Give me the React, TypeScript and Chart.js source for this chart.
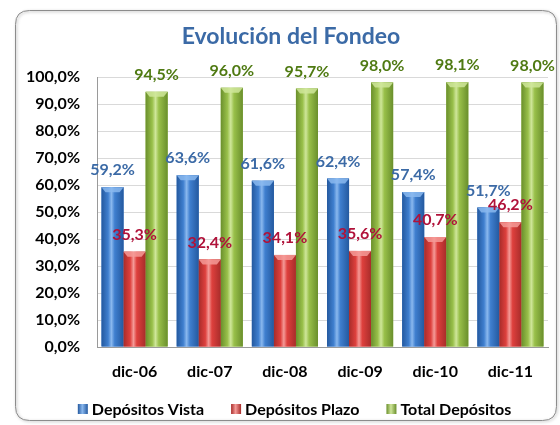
import React, { useEffect, useRef } from "react";
import { Chart, registerables } from "chart.js";

Chart.register(...registerables);

const categories = ["dic-06", "dic-07", "dic-08", "dic-09", "dic-10", "dic-11"];
const vista = [59.2, 63.6, 61.6, 62.4, 57.4, 51.7];
const plazo = [35.3, 32.4, 34.1, 35.6, 40.7, 46.2];
const total = [94.5, 96.0, 95.7, 98.0, 98.1, 98.0];
const seriesNames = ["Depósitos Vista", "Depósitos Plazo", "Total Depósitos"];
const yTicks = [0, 10, 20, 30, 40, 50, 60, 70, 80, 90, 100];
const title = "Evolución del Fondeo";

const FONT = "Lato, 'Open Sans', sans-serif";
const baseColors = ["#3f7fcf", "#de403d", "#99c04a"];
const darkColors = ["#24599f", "#a82c2a", "#6a8f2c"];
const lightColors = ["#8ab8ee", "#f49a97", "#cfe69a"];
const labelColors = ["#3b6aa6", "#b0123a", "#4f7a12"];

const fmt = (v: number) => v.toFixed(1).replace(".", ",") + "%";

function roundRect(ctx: CanvasRenderingContext2D, x: number, y: number, w: number, h: number, r: number) {
  ctx.beginPath();
  ctx.moveTo(x + r, y);
  ctx.lineTo(x + w - r, y);
  ctx.quadraticCurveTo(x + w, y, x + w, y + r);
  ctx.lineTo(x + w, y + h - r);
  ctx.quadraticCurveTo(x + w, y + h, x + w - r, y + h);
  ctx.lineTo(x + r, y + h);
  ctx.quadraticCurveTo(x, y + h, x, y + h - r);
  ctx.lineTo(x, y + r);
  ctx.quadraticCurveTo(x, y, x + r, y);
  ctx.closePath();
}

const decorPlugin = {
  id: "decor",
  beforeDraw(chart: any) {
    const ctx = chart.ctx as CanvasRenderingContext2D;
    ctx.save();
    ctx.fillStyle = "#ffffff";
    ctx.fillRect(0, 0, chart.width, chart.height);
    ctx.shadowColor = "rgba(0,0,0,0.35)";
    ctx.shadowBlur = 3;
    ctx.shadowOffsetX = 1;
    ctx.shadowOffsetY = 1;
    roundRect(ctx, 15.5, 10.5, 541, 410, 14);
    ctx.strokeStyle = "#8c8c8c";
    ctx.lineWidth = 1;
    ctx.stroke();
    ctx.restore();
    ctx.save();
    ctx.fillStyle = "#3b6aa6";
    ctx.font = `bold 23px ${FONT}`;
    ctx.textAlign = "center";
    ctx.textBaseline = "middle";
    ctx.fillText(title, 291, 37);
    ctx.restore();
  },
  afterDatasetsDraw(chart: any) {
    const ctx = chart.ctx as CanvasRenderingContext2D;
    // bar shading
    chart.data.datasets.forEach((ds: any, di: number) => {
      const meta = chart.getDatasetMeta(di);
      meta.data.forEach((bar: any) => {
        const left = bar.x - bar.width / 2;
        const right = bar.x + bar.width / 2;
        const top = bar.y;
        const bottom = bar.base;
        const g = ctx.createLinearGradient(left, 0, right, 0);
        g.addColorStop(0, darkColors[di]);
        g.addColorStop(0.3, baseColors[di]);
        g.addColorStop(0.45, lightColors[di]);
        g.addColorStop(0.6, baseColors[di]);
        g.addColorStop(1, darkColors[di]);
        ctx.save();
        ctx.fillStyle = g;
        ctx.fillRect(left, top, right - left, bottom - top);
        ctx.beginPath();
        ctx.moveTo(left, top);
        ctx.lineTo(right, top);
        ctx.lineTo(right - 4, top + 5);
        ctx.lineTo(left + 4, top + 5);
        ctx.closePath();
        ctx.fillStyle = lightColors[di];
        ctx.globalAlpha = 0.85;
        ctx.fill();
        ctx.restore();
      });
    });
    // labels on top of everything
    chart.data.datasets.forEach((ds: any, di: number) => {
      const meta = chart.getDatasetMeta(di);
      meta.data.forEach((bar: any, i: number) => {
        ctx.save();
        ctx.font = `bold 16px ${FONT}`;
        ctx.fillStyle = labelColors[di];
        ctx.textAlign = "center";
        ctx.textBaseline = "middle";
        ctx.fillText(fmt(ds.data[i]), bar.x, bar.y - 17);
        ctx.restore();
      });
    });
    // legend
    ctx.save();
    ctx.font = `bold 16px ${FONT}`;
    ctx.textBaseline = "middle";
    const box = 10, gapBox = 4, gapItem = 27;
    const widths = seriesNames.map((n) => box + gapBox + ctx.measureText(n).width);
    const totalW = widths.reduce((a, b) => a + b, 0) + gapItem * (seriesNames.length - 1);
    let x = 294.5 - totalW / 2;
    const y = 409;
    seriesNames.forEach((n, di) => {
      const g = ctx.createLinearGradient(x, 0, x + box, 0);
      g.addColorStop(0, darkColors[di]);
      g.addColorStop(0.45, lightColors[di]);
      g.addColorStop(1, darkColors[di]);
      ctx.fillStyle = g;
      ctx.fillRect(x, y - box / 2, box, box);
      ctx.fillStyle = "#000000";
      ctx.fillText(n, x + box + gapBox, y + 1);
      x += widths[di] + gapItem;
    });
    ctx.restore();
  },
};

export default function App() {
  const ref = useRef<HTMLCanvasElement>(null);
  useEffect(() => {
    if (!ref.current) return;
    const chart = new Chart(ref.current, {
      type: "bar",
      data: {
        labels: categories,
        datasets: [vista, plazo, total].map((d, i) => ({
          label: seriesNames[i],
          data: d,
          backgroundColor: baseColors[i],
          borderWidth: 0,
          categoryPercentage: 0.88,
          barPercentage: 1.0,
        })),
      },
      options: {
        animation: false,
        responsive: false,
        maintainAspectRatio: false,
        layout: { padding: { left: 0, top: 77, right: 12, bottom: 38 } },
        plugins: { legend: { display: false }, title: { display: false }, tooltip: { enabled: false } },
        scales: {
          x: {
            grid: { display: false, drawTicks: false },
            border: { display: true, color: "#9a9a9a" },
            ticks: { color: "#000", font: { family: FONT, size: 16, weight: "bold" }, padding: 15 },
            afterFit: (s: any) => { s.height = 40; },
          },
          y: {
            min: 0,
            max: 100,
            afterBuildTicks: (s: any) => { s.ticks = yTicks.map((v) => ({ value: v })); },
            grid: { color: "#d9d9d9", drawTicks: false },
            border: { display: true, color: "#9a9a9a" },
            ticks: {
              color: "#000",
              font: { family: FONT, size: 16, weight: "bold" },
              padding: 17,
              callback: (v: any) => fmt(Number(v)),
            },
            afterFit: (s: any) => { s.width = 97; },
          },
        },
      },
      plugins: [decorPlugin],
    });
    return () => chart.destroy();
  }, []);
  return (
    <div style={{ position: "absolute", left: 0, top: 0, width: 560, height: 425 }}>
      <canvas ref={ref} width={560} height={425} style={{ width: 560, height: 425, display: "block" }} />
    </div>
  );
}
